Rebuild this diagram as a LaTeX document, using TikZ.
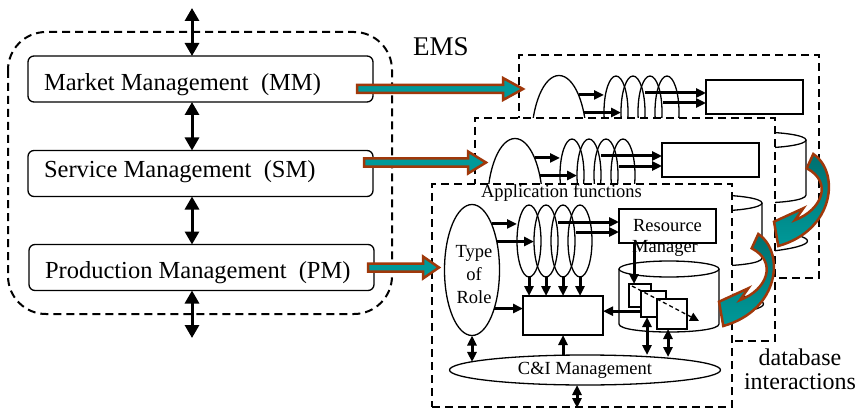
\documentclass[tikz,border=0pt]{standalone}
\usepackage{fontspec}
\setmainfont{Liberation Serif}
\usetikzlibrary{arrows.meta,shapes.geometric}
\definecolor{tealf}{RGB}{0,153,153}
\definecolor{tealdk}{RGB}{0,112,112}
\definecolor{brownl}{RGB}{160,56,10}
\newif\ifshowtxt
\newcommand{\tx}[1]{\ifshowtxt#1\fi}
\tikzset{
 every node/.style={inner sep=0pt, outer sep=0pt},
 lw/.style={line width=1.3pt},
 frm/.style={draw, dash pattern=on 8pt off 5pt, line width=2.4pt, fill=white, minimum width=300pt, minimum height=223pt, rectangle},
 ell/.style={draw, line width=1.3pt, ellipse},
 rbox/.style={draw, line width=1.3pt, rectangle, fill=white},
 arr/.style={line width=3pt, -{Triangle[length=10pt,width=9pt]}},
 dbl/.style={line width=3pt, {Triangle[length=10pt,width=9pt]}-{Triangle[length=10pt,width=9pt]}},
 big/.style={line width=3pt, {Triangle[length=13pt,width=14pt]}-{Triangle[length=13pt,width=14pt]}},
 sm/.style={font=\fontsize{18.5}{23}\selectfont},
 lg/.style={font=\fontsize{24.5}{28}\selectfont},
 mbox/.style={draw, line width=1.3pt, rounded corners=6pt, minimum width=345pt, minimum height=46pt},
 fat/.style={fill=tealf, draw=brownl, line width=2.5pt, line join=miter},
 fatc/.style={top color=tealdk, bottom color=tealf, draw=brownl, line width=2.5pt, line join=miter},
}
\newcommand{\frameparts}{%
 \node[frm] (fr) at (150,111.5) {};
 \node[ell, fill=white, minimum width=55pt, minimum height=131pt] (tor) at (40,86) {};
 \node[sm, align=center] (tort) at (42,91) {\tx{Type\\of\\Role}};
 \node[ell, minimum width=24pt, minimum height=72pt] (e1) at (97,57) {};
 \node[ell, minimum width=24pt, minimum height=72pt] (e2) at (114,57) {};
 \node[ell, minimum width=24pt, minimum height=72pt] (e3) at (131,57) {};
 \node[ell, minimum width=24pt, minimum height=72pt] (e4) at (148,57) {};
 \node[rbox, sm, minimum width=97pt, minimum height=34pt] (rm) at (235.5,42) {\tx{Resource}};
 \node[sm] (rmt) at (233,64) {\tx{Manager}};
 \node[sm] (aft) at (129.5,9) {\tx{Application functions}};
 \node[rbox, minimum width=80pt, minimum height=39pt] (bx) at (131,131.5) {};
 \draw[arr] (tor.67) -- (tor.67 -| e1.west);
 \draw[arr] (tor.49) -- (tor.49 -| e2.west);
 \coordinate (s3) at (126,38);
 \coordinate (s4) at (144,48);
 \draw[arr] (s3) -- (s3 -| rm.west);
 \draw[arr] (s4) -- (s4 -| rm.west);
 \foreach \e in {e1,e2,e3,e4} \draw[arr] (\e.south) -- (\e.south |- bx.north);
 \draw[arr] (tor.-60) -- (tor.-60 -| bx.west);
 \path[fill=white] (187,85) -- (187,140) .. controls (187,150.67) and (287,150.67) .. (287,140) -- (287,85) -- cycle;
 \draw[lw, fill=white] (237,85) ellipse [x radius=50, y radius=8];
 \draw[lw] (187,85) -- (187,140) .. controls (187,150.67) and (287,150.67) .. (287,140) -- (287,85);
 \node[ell, sm, fill=white, minimum width=271pt, minimum height=30pt] (ci) at (153,186) {\tx{C\&I Management}};
 \draw[dbl] (tor.south) -- (tor.south |- ci.176);
 \draw[arr] (bx.south |- ci.north) -- (bx.south);
 \coordinate (bb) at (145,224);
 \draw[dbl] (bb |- ci.south) -- (bb);
 \ifshowtxt
  \node[rbox, minimum width=22pt, minimum height=23pt] (q1) at (208,111.5) {};
  \node[rbox, minimum width=25pt, minimum height=26pt] (q2) at (221.5,120) {};
  \node[rbox, minimum width=30pt, minimum height=30pt] (q3) at (240,130) {};
  \coordinate (dA) at ([shift={(3pt,-2pt)}]q1.north west);
  \coordinate (dB) at (267,137);
  \draw[line width=1.3pt, dash pattern=on 4pt off 3pt, -{Triangle[length=9pt,width=9pt]}] (dA) -- (dB);
  \coordinate (k) at ([xshift=5pt]q1.north west);
  \draw[arr] (k |- rm.south) -- (k);
  \draw[arr] (q2.210) -- (q2.210 -| bx.east);
  \coordinate (k2) at ([xshift=6pt]q2.south west);
  \draw[dbl] (k2) -- (k2 |- ci.north);
  \coordinate (k3) at ([xshift=-4pt]q3.south);
  \draw[dbl] (k3) -- ([yshift=-2pt]k3 |- ci.north);
 \fi
}
\begin{document}
\begin{tikzpicture}[x=1pt,y=-1pt]
\useasboundingbox (0,0) rectangle (862,409);
% left EMS group
\draw[dash pattern=on 8pt off 5pt, line width=2pt, rounded corners=38pt] (8,32) rectangle (392,314);
\node[mbox] (mm) at (200.5,79) {};
\node[mbox] (sm) at (200.5,173.5) {};
\node[mbox] (pm) at (201.5,267.5) {};
\node[lg, anchor=base west] (mmt) at (44,90.7) {Market Management\ \ (MM)};
\node[lg, anchor=base west] (smt) at (44,177) {Service Management\ \ (SM)};
\node[lg, anchor=base west] (pmt) at (45,278.3) {Production Management\ \ (PM)};
\coordinate (vt) at (192,8);
\coordinate (vb) at (192,338);
\draw[big] (vt) -- (vt |- mm.north);
\draw[big] (vt |- mm.south) -- (vt |- sm.north);
\draw[big] (vt |- sm.south) -- (vt |- pm.north);
\draw[big] (vt |- pm.south) -- (vb);
\node[font=\fontsize{27}{30}\selectfont] (ems) at (441,47) {EMS};
% stacked frames
\showtxtfalse
\begin{scope}[shift={(519,55)}, name prefix=fa-] \frameparts \end{scope}
\begin{scope}[shift={(475,118)}, name prefix=fb-] \frameparts \end{scope}
\showtxttrue
\begin{scope}[shift={(432,184)}, name prefix=fc-] \frameparts \end{scope}
% fat arrows
\draw[fat] (357,85) -- (503,85) -- (503,78) -- (523,89) -- (503,100) -- (503,93) -- (357,93) -- cycle;
\draw[fat] (364,158.5) -- (468,158.5) -- (468,151.5) -- (486,162.5) -- (468,173.5) -- (468,166.5) -- (364,166.5) -- cycle;
\draw[fat] (368,263.5) -- (423,263.5) -- (423,256.5) -- (439,267.5) -- (423,278.5) -- (423,271.5) -- (368,271.5) -- cycle;
% curved arrows
\path[fatc] (813.3,154) .. controls (840,172) and (835,230) .. (778.3,246) -- (774,221.7) -- (803.3,208.3) -- (795,220) .. controls (822,210) and (833,182) .. (806.7,168.3) -- cycle;
\begin{scope}[shift={(-55,80)}]
\path[fatc] (813.3,154) .. controls (840,172) and (835,230) .. (778.3,246) -- (774,221.7) -- (803.3,208.3) -- (795,220) .. controls (822,210) and (833,182) .. (806.7,168.3) -- cycle;
\end{scope}
\node[font=\fontsize{24}{24}\selectfont, align=center] (dbi) at (800,369) {database\\interactions};
\end{tikzpicture}
\end{document}
